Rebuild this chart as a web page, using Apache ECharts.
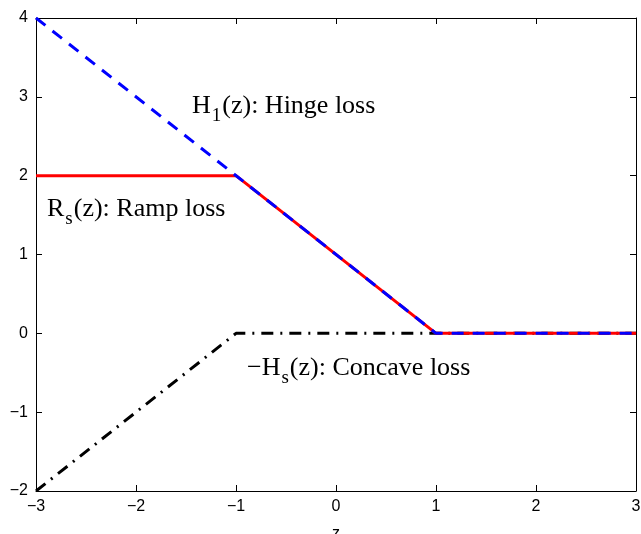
<!DOCTYPE html>
<html>
<head>
<meta charset="utf-8">
<script src="https://cdn.jsdelivr.net/npm/echarts@6/dist/echarts.min.js"></script>
<style>
  html, body { margin: 0; padding: 0; background: #fff; }
  #panel { width: 641px; height: 534px; }
</style>
</head>
<body>
<div id="panel"></div>
<script>
// loss curves, points as [z, value]
var hingeLoss = [[-3, 4], [1, 0], [3, 0]];
var rampLoss = [[-3, 2], [-1, 2], [1, 0], [3, 0]];
var concaveLoss = [[-3, -2], [-1, 0], [3, 0]];
var xTicks = { min: -3, max: 3, step: 1 };
var yTicks = { min: -2, max: 4, step: 1 };

var chartDom = document.getElementById('panel');
var myChart = echarts.init(chartDom);

function minus(v) { return String(v).replace('-', '\u2212'); }

var tickFont = { fontFamily: 'Liberation Sans', fontSize: 16, color: '#000' };
var serif = 'Liberation Serif';
var rich = {
    a: { fontFamily: serif, fontSize: 26, color: '#000' },
    sub: { fontFamily: serif, fontSize: 19, color: '#000', padding: [20, 1, 0, 1] }
};

function axisBase(show) {
    return {
        axisLine: { show: true, onZero: false, lineStyle: { color: '#000', width: 1 } },
        axisTick: { show: true, inside: true, length: 6, lineStyle: { color: '#000' } },
        axisLabel: show ? Object.assign({ formatter: minus, margin: 8 }, tickFont) : { show: false },
        splitLine: { show: false }
    };
}

var option = {
    animation: false,
    backgroundColor: '#fff',
    grid: { left: 36, right: 5, top: 18, bottom: 43, outerBoundsMode: 'none' },
    xAxis: [
        Object.assign({ type: 'value', position: 'bottom', min: xTicks.min, max: xTicks.max, interval: xTicks.step,
            name: 'z', nameLocation: 'middle', nameGap: 35,
            nameTextStyle: { fontFamily: 'Liberation Sans', fontSize: 16, color: '#000' } }, axisBase(true)),
        Object.assign({ type: 'value', position: 'top', min: xTicks.min, max: xTicks.max, interval: xTicks.step }, axisBase(false))
    ],
    yAxis: [
        Object.assign({ type: 'value', position: 'left', min: yTicks.min, max: yTicks.max, interval: yTicks.step }, axisBase(true)),
        Object.assign({ type: 'value', position: 'right', min: yTicks.min, max: yTicks.max, interval: yTicks.step }, axisBase(false))
    ],
    series: [
        {
            name: 'concave', type: 'line', data: concaveLoss, symbol: 'none',
            lineStyle: { color: '#000', width: 3, type: [12, 7, 2, 7] }
        },
        {
            name: 'ramp', type: 'line', data: rampLoss, symbol: 'none',
            lineStyle: { color: '#ff0000', width: 3, type: 'solid' }
        },
        {
            name: 'hinge', type: 'line', data: hingeLoss, symbol: 'none',
            lineStyle: { color: '#0000ff', width: 3, type: [12, 9] }
        }
    ],
    graphic: [
        { type: 'text', left: 192, top: 93, style: { text: '{a|H}{sub|1}{a|(z): Hinge loss}', rich: rich } },
        { type: 'text', left: 47, top: 196, style: { text: '{a|R}{sub|s}{a|(z): Ramp loss}', rich: rich } },
        { type: 'text', left: 247, top: 355, style: { text: '{a|\u2212H}{sub|s}{a|(z): Concave loss}', rich: rich } }
    ]
};

myChart.setOption(option);
</script>
</body>
</html>
